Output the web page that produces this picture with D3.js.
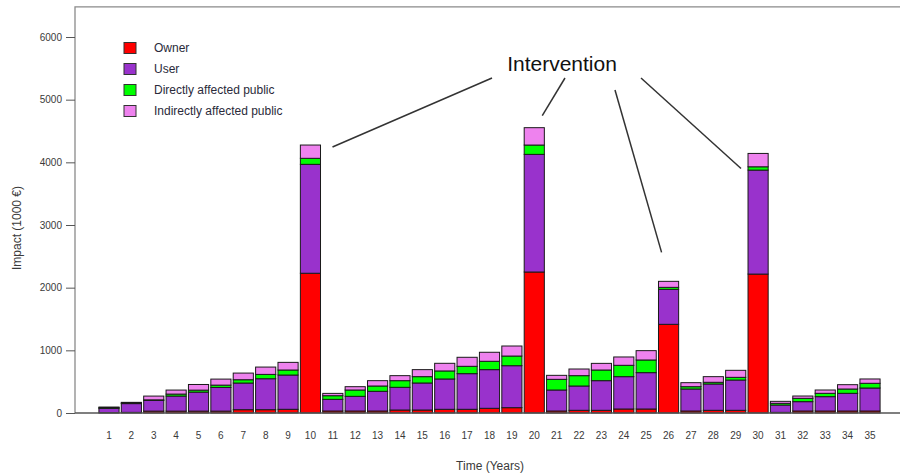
<!DOCTYPE html>
<html>
<head>
<meta charset="utf-8">
<script src="https://cdn.jsdelivr.net/npm/d3@7"></script>
<style>
  html, body { margin: 0; padding: 0; background: #fff; }
  svg { display: block; font-family: "Liberation Sans", Arial, sans-serif; }
</style>
</head>
<body>
<svg id="chart" width="900" height="475"></svg>
<script>
// Yearly impact per stakeholder group, in thousands of euros
const years = d3.range(1, 36);
const owner = [5, 10, 30, 30, 30, 30, 53, 53, 59, 2230,
  32, 32, 32, 48, 48, 59, 59, 75, 85, 2250,
  32, 43, 43, 64, 64, 1415, 32, 43, 43, 2217,
  10, 32, 32, 32, 32];
const user = [70, 140, 170, 240, 303, 378, 425, 494, 547, 1738,
  186, 234, 314, 362, 431, 484, 569, 617, 670, 1877,
  335, 388, 473, 516, 580, 558, 351, 420, 483, 1659,
  117, 149, 229, 282, 367];
const directPublic = [10, 10, 10, 32, 32, 37, 53, 69, 80, 96,
  58, 101, 85, 106, 101, 128, 117, 133, 154, 149,
  170, 165, 170, 181, 202, 32, 37, 27, 43, 53,
  27, 53, 53, 69, 75];
const indirectPublic = [10, 10, 60, 64, 90, 96, 106, 117, 122, 212,
  37, 53, 85, 80, 112, 122, 144, 144, 160, 277,
  64, 106, 106, 133, 149, 96, 64, 90, 112, 213,
  32, 37, 53, 69, 69];
const groups = ["Owner", "User", "Directly affected public", "Indirectly affected public"];
const groupColors = ["#ff0000", "#9932cc", "#00ff00", "#ee82ee"];
const yTicks = [0, 1000, 2000, 3000, 4000, 5000, 6000];
const interventionYears = [10, 20, 26, 30];

const svg = d3.select("#chart");

const x = d3.scaleBand()
  .domain(years)
  .range([97.8, 881.2])
  .paddingInner(0.1)
  .paddingOuter(0.05);

const y = d3.scaleLinear().domain([0, 6000]).range([413, 37]);

// Plot frame: left axis line and top border
svg.append("path")
  .attr("d", `M900,${y(6480)}H75V${y(0)}`)
  .attr("fill", "none")
  .attr("stroke", "#8a8a8a")
  .attr("stroke-width", 1.3);

// Stacked bars
const rows = years.map((yr, i) => ({
  year: yr,
  Owner: owner[i],
  User: user[i],
  "Directly affected public": directPublic[i],
  "Indirectly affected public": indirectPublic[i]
}));
const stacked = d3.stack().keys(groups)(rows);

stacked.forEach((layer, k) => {
  svg.append("g")
    .selectAll("rect")
    .data(layer)
    .join("rect")
    .attr("x", d => x(d.data.year))
    .attr("width", x.bandwidth())
    .attr("y", d => y(d[1]))
    .attr("height", d => y(d[0]) - y(d[1]))
    .attr("fill", groupColors[k])
    .attr("stroke", "#1a1a1a")
    .attr("stroke-width", 1);
});

// Baseline
svg.append("line")
  .attr("x1", 75).attr("x2", 900)
  .attr("y1", y(0)).attr("y2", y(0))
  .attr("stroke", "#555")
  .attr("stroke-width", 1.3);

// Y axis ticks and labels
const yAxis = d3.axisLeft(y).tickValues(yTicks).tickFormat(d3.format("d")).tickSize(9).tickPadding(4);
const yg = svg.append("g").attr("transform", "translate(75,0)").call(yAxis);
yg.select(".domain").remove();
yg.selectAll("line").attr("stroke", "#555");
yg.selectAll("text")
  .attr("fill", "#3a3a3a")
  .style("font-size", "10px")
  .style("font-family", "'Liberation Sans', Arial, sans-serif");

// X axis labels (no line)
const xAxis = d3.axisBottom(x).tickSize(0).tickPadding(19);
const xg = svg.append("g").attr("transform", `translate(0,${y(0)})`).call(xAxis);
xg.select(".domain").remove();
xg.selectAll("text")
  .attr("fill", "#3a3a3a")
  .style("font-size", "10px")
  .style("font-family", "'Liberation Sans', Arial, sans-serif");

// Axis titles
svg.append("text")
  .attr("x", 490).attr("y", 470)
  .attr("text-anchor", "middle")
  .attr("fill", "#3a3a3a")
  .style("font-size", "12px")
  .text("Time (Years)");

svg.append("text")
  .attr("transform", "translate(21,228) rotate(-90)")
  .attr("text-anchor", "middle")
  .attr("fill", "#3a3a3a")
  .style("font-size", "12px")
  .text("Impact (1000 €)");

// Legend
const legend = svg.append("g");
groups.forEach((g, i) => {
  const ly = 48 + i * 21;
  legend.append("rect")
    .attr("x", 124).attr("y", ly - 5.5)
    .attr("width", 12).attr("height", 11)
    .attr("fill", groupColors[i])
    .attr("stroke", "#333")
    .attr("stroke-width", 1);
  legend.append("text")
    .attr("x", 154).attr("y", ly + 4)
    .attr("fill", "#2a2a3a")
    .style("font-size", "12px")
    .text(g);
});

// Intervention callout pointing to the large bars
svg.append("text")
  .attr("x", 562).attr("y", 71)
  .attr("text-anchor", "middle")
  .attr("fill", "#111")
  .style("font-size", "21px")
  .text("Intervention");

const totals = rows.map(r => groups.reduce((s, g) => s + r[g], 0));
const calloutStarts = [[492, 78], [565, 78], [615, 90], [641, 78]];
const calloutEnds = [
  [x(10) + x.bandwidth() + 12, y(totals[9]) + 2],
  [x(20) + x.bandwidth() / 2 + 8, y(totals[19]) - 12],
  [x(26) + x.bandwidth() / 2 - 7, y(totals[25]) - 29],
  [x(30) - 7, y(totals[29]) + 15]
];
interventionYears.forEach((yr, i) => {
  svg.append("line")
    .attr("x1", calloutStarts[i][0]).attr("y1", calloutStarts[i][1])
    .attr("x2", calloutEnds[i][0]).attr("y2", calloutEnds[i][1])
    .attr("stroke", "#333")
    .attr("stroke-width", 1.5);
});
</script>
</body>
</html>
